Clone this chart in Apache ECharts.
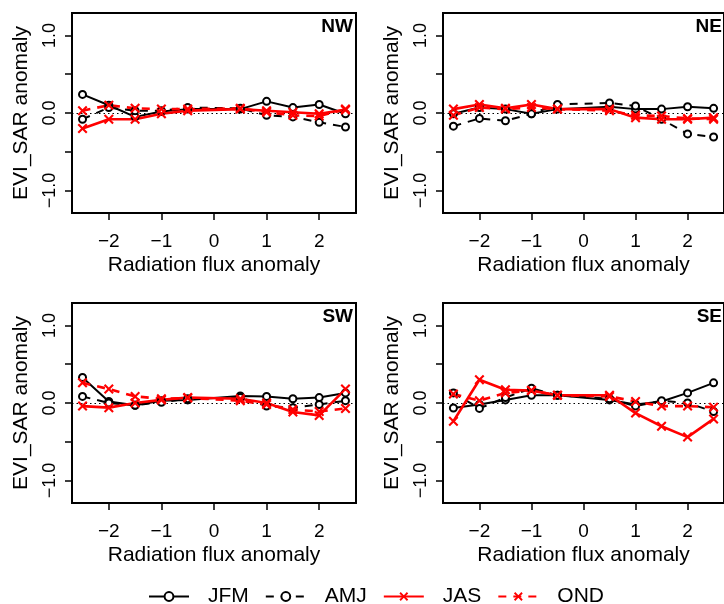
<!DOCTYPE html>
<html><head><meta charset="utf-8">
<script src="https://cdn.jsdelivr.net/npm/echarts@6/dist/echarts.min.js"></script>
<style>html,body{margin:0;padding:0;background:#fff}#c{width:724px;height:604px}</style>
</head><body><div id="c"></div>
<script>
const xs = [-2.5,-2,-1.5,-1,-0.5,0.5,1,1.5,2,2.5];
const panels = ['NW','NE','SW','SE'];
const seasons = ['JFM','AMJ','JAS','OND'];
const xTicks = [-2,-1,0,1,2];
const yTicks = [-1,-0.5,0,0.5,1];
const yLabels = [-1,0,1];

const NW_JFM = [0.24,0.10,-0.05,0.02,0.05,0.05,0.15,0.07,0.11,-0.01];
const NW_AMJ = [-0.08,0.07,0.03,0.03,0.07,0.06,-0.03,-0.05,-0.12,-0.18];
const NW_JAS = [-0.20,-0.08,-0.08,-0.01,0.03,0.05,0.03,0.01,-0.01,0.04];
const NW_OND = [0.03,0.10,0.06,0.05,0.05,0.06,0.01,-0.03,-0.04,0.05];

const NE_JFM = [-0.01,0.07,0.05,-0.01,0.05,0.08,0.05,0.05,0.08,0.06];
const NE_AMJ = [-0.17,-0.07,-0.10,-0.01,0.11,0.13,0.09,-0.08,-0.27,-0.31];
const NE_JAS = [0.05,0.11,0.06,0.11,0.05,0.05,-0.06,-0.08,-0.08,-0.06];
const NE_OND = [-0.03,0.07,0.05,0.07,0.05,0.03,-0.03,-0.04,-0.07,-0.08];

const SW_JFM = [0.33,0.02,-0.03,0.03,0.04,0.09,0.085,0.055,0.07,0.13];
const SW_AMJ = [0.085,0.00,-0.03,0.01,0.055,0.07,-0.04,-0.06,-0.02,0.03];
const SW_JAS = [-0.04,-0.06,0.00,0.04,0.07,0.055,0.00,-0.115,-0.16,0.18];
const SW_OND = [0.26,0.18,0.085,0.055,0.065,0.03,-0.02,-0.085,-0.11,-0.07];

const SE_JFM = [-0.065,-0.02,0.04,0.10,0.10,0.04,-0.02,0.02,0.13,0.26];
const SE_AMJ = [0.13,-0.07,0.07,0.19,0.10,0.055,-0.04,0.03,0.00,-0.11];
const SE_JAS = [-0.235,0.30,0.17,0.16,0.10,0.10,-0.13,-0.30,-0.44,-0.205];
const SE_OND = [0.115,0.03,0.13,0.16,0.10,0.085,0.02,-0.04,-0.04,-0.055];

const panelData = {
  NW:[NW_JFM,NW_AMJ,NW_JAS,NW_OND],
  NE:[NE_JFM,NE_AMJ,NE_JAS,NE_OND],
  SW:[SW_JFM,SW_AMJ,SW_JAS,SW_OND],
  SE:[SE_JFM,SE_AMJ,SE_JAS,SE_OND]
};

const FONT = '"Liberation Sans", Arial, sans-serif';
const XSYM = 'path://M0,1.5 L1.5,0 L5,3.5 L8.5,0 L10,1.5 L6.5,5 L10,8.5 L8.5,10 L5,6.5 L1.5,10 L0,8.5 L3.5,5 Z';
const styles = [
  {color:'#000', type:'solid', width:2, symbol:'emptyCircle', size:7},
  {color:'#000', type:[8,7], width:2, symbol:'emptyCircle', size:7},
  {color:'#ff0000', type:'solid', width:2.6, symbol:XSYM, size:10},
  {color:'#ff0000', type:[8,7], width:2.6, symbol:XSYM, size:10}
];
const gridPos = [
  {left:72, top:13}, {left:443, top:13},
  {left:72, top:303}, {left:443, top:303}
];
const labelRight = [371, 2, 371, 2];

const grids=[], xAxes=[], yAxes=[], series=[], graphics=[];
panels.forEach((p,gi)=>{
  grids.push({left:gridPos[gi].left, top:gridPos[gi].top, width:284, height:200,
    show:true, borderColor:'#000', borderWidth:2, backgroundColor:'transparent'});
  xAxes.push({gridIndex:gi, type:'value', min:-2.7, max:2.7,
    name:'Radiation flux anomaly', nameLocation:'middle', nameGap:42,
    nameTextStyle:{fontFamily:FONT, fontSize:21, color:'#000'},
    axisLine:{show:false, onZero:false}, splitLine:{show:false},
    axisTick:{show:true, length:7, inside:false, customValues:xTicks, lineStyle:{color:'#000', width:1.5}},
    axisLabel:{customValues:xTicks, margin:19, fontFamily:FONT, fontSize:19, color:'#000',
      formatter:v=>String(v).replace('-','\u2212')}
  });
  yAxes.push({gridIndex:gi, type:'value', min:-1.29, max:1.29,
    name:'EVI_SAR anomaly', nameLocation:'middle', nameGap:40, nameRotate:90,
    nameTextStyle:{fontFamily:FONT, fontSize:21, color:'#000'},
    axisLine:{show:false, onZero:false}, splitLine:{show:false},
    axisTick:{show:true, length:7, inside:false, customValues:yTicks, lineStyle:{color:'#000', width:1.5}},
    axisLabel:{customValues:yLabels, rotate:90, margin:13, fontFamily:FONT, fontSize:18, color:'#000',
      formatter:v=>v.toFixed(1).replace('-','\u2212')}
  });
  panelData[p].forEach((vals,si)=>{
    const st = styles[si];
    const s = {
      name:seasons[si], type:'line', xAxisIndex:gi, yAxisIndex:gi,
      data: xs.map((x,i)=>[x, vals[i]]),
      symbol:st.symbol, symbolSize:st.size, showSymbol:true,
      lineStyle:{color:st.color, width:st.width, type:st.type},
      itemStyle:{color:st.color, borderWidth: st.symbol==='emptyCircle'?1.6:0},
      animation:false, z:3
    };
    if(si===0){
      s.markLine = {silent:true, symbol:'none', label:{show:false},
        lineStyle:{color:'#000', type:[1.5,3], width:1.2}, data:[{yAxis:0}], z:1};
    }
    series.push(s);
  });
  graphics.push({type:'text', right: labelRight[gi], top: gridPos[gi].top+4,
    style:{text:p, font:'bold 19px '+FONT, fill:'#000'}});
});

const chart = echarts.init(document.getElementById('c'), null, {renderer:'canvas'});
chart.setOption({
  animation:false,
  backgroundColor:'#fff',
  grid:grids, xAxis:xAxes, yAxis:yAxes, series:series, graphic:graphics,
  legend:{data:seasons, left:143, top:581, itemWidth:40, itemHeight:11, itemGap:16,
    textStyle:{fontFamily:FONT, fontSize:21, color:'#000', padding:[0,0,0,14]}}
});
</script></body></html>
